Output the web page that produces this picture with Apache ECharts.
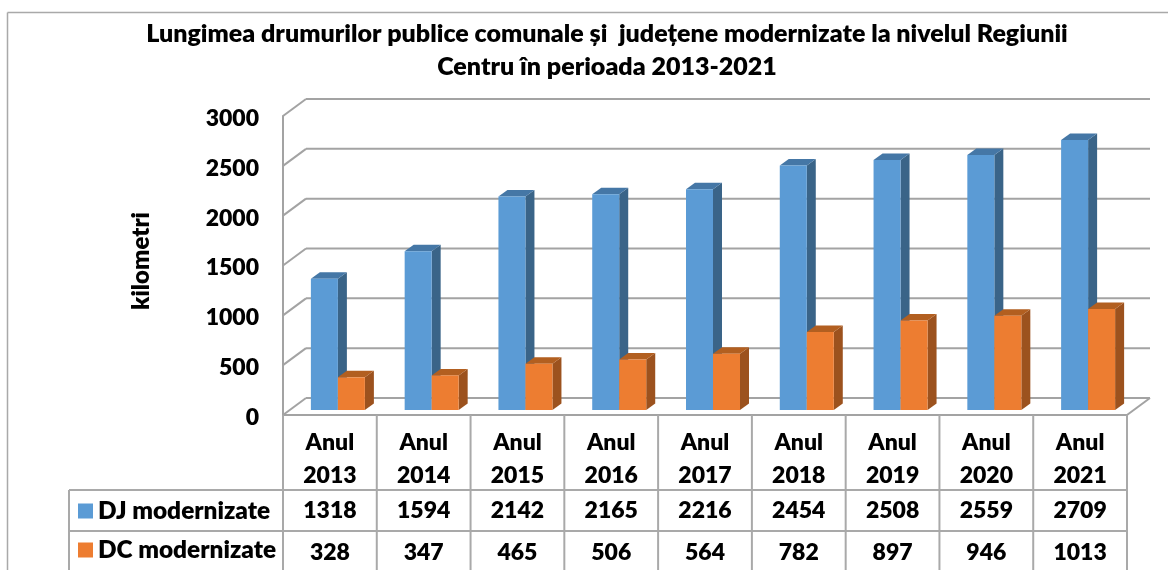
<!DOCTYPE html>
<html><head><meta charset="utf-8">
<style>html,body{margin:0;padding:0;background:#fff}#c{width:1168px;height:570px}</style>
<script src="https://cdn.jsdelivr.net/npm/echarts@6/dist/echarts.min.js"></script>
</head><body><div id="c"></div>
<script>
const categories = ['Anul\n2013','Anul\n2014','Anul\n2015','Anul\n2016','Anul\n2017','Anul\n2018','Anul\n2019','Anul\n2020','Anul\n2021'];
const djValues = [1318,1594,2142,2165,2216,2454,2508,2559,2709];
const dcValues = [328,347,465,506,564,782,897,946,1013];
const yTicks = [0,500,1000,1500,2000,2500,3000];
const titleText = 'Lungimea drumurilor publice comunale și  județene modernizate la nivelul Regiunii\nCentru în perioada 2013-2021';
const FONT = 'Lato';
const GRID = '#a3a3a3', TABLE = '#a9a9a9';
const DEPTH = [23,-17], BAR_OFF = [8,-5], BAR_D = [9,-6.5], BAR_W = 27;

const poly = (points, fill) => ({type:'polygon', shape:{points}, style:{fill, stroke:null}});
const line = (x1,y1,x2,y2,stroke,lineWidth) => ({type:'line', shape:{x1,y1,x2,y2}, style:{stroke,lineWidth}});

function barSeries(name, values, slot, front, side, top){
  return {
    name, type:'custom', clip:false, silent:true, z:5,
    itemStyle:{color:front}, data:values,
    renderItem(params, api){
      const i = params.dataIndex;
      const c = api.coord([i, api.value(0)]), b = api.coord([i, 0]);
      const x0 = b[0] + BAR_OFF[0] + (slot-1)*BAR_W, x1 = x0 + BAR_W;
      const y0 = b[1] + BAR_OFF[1], y1 = c[1] + BAR_OFF[1];
      const dx = BAR_D[0], dy = BAR_D[1];
      return {type:'group', children:[
        poly([[x1,y0],[x1+dx,y0+dy],[x1+dx,y1+dy],[x1,y1]], side),
        poly([[x0,y1],[x1,y1],[x1+dx,y1+dy],[x0+dx,y1+dy]], top),
        poly([[x0,y0],[x1,y0],[x1,y1],[x0,y1]], front)
      ]};
    },
    encode:{y:0}
  };
}
function rowSeries(name, values, yCenter){
  return {
    name, type:'custom', clip:false, silent:true, z:6, data:values,
    renderItem(params, api){
      const x = api.coord([params.dataIndex, 0])[0];
      return {type:'text', x, y:yCenter, style:{text:String(api.value(0)), fill:'#000', font:'800 23px '+FONT, textAlign:'center', textVerticalAlign:'middle'}};
    },
    encode:{y:0}
  };
}
const option = {
  animation:false,
  backgroundColor:'#fff',
  title:{text:titleText, left:602, top:12, textAlign:'center',
    textStyle:{fontFamily:FONT, fontWeight:800, fontSize:25, lineHeight:33, color:'#000'}},
  legend:{orient:'vertical', left:78, top:499, padding:0, itemWidth:15, itemHeight:15, itemGap:15, selectedMode:false,
    data:[{name:'DJ modernizate',icon:'rect',itemStyle:{color:'#5B9BD5'}},{name:'DC modernizate',icon:'rect',itemStyle:{color:'#ED7D31'}}],
    textStyle:{fontFamily:FONT, fontWeight:800, fontSize:24.4, color:'#000', padding:[0,0,0,0]}},
  grid:{left:283, right:41, top:116, bottom:155},
  xAxis:{type:'category', data:categories, axisTick:{show:false},
    axisLine:{lineStyle:{color:GRID,width:2}},
    axisLabel:{interval:0, margin:11, color:'#000', fontFamily:FONT, fontWeight:800, fontSize:23, lineHeight:33}},
  yAxis:{type:'value', min:0, max:3000, interval:500,
    name:'kilometri', nameLocation:'middle', nameGap:130, nameRotate:90,
    nameTextStyle:{color:'#000', fontFamily:FONT, fontWeight:800, fontSize:24, padding:[0,0,0,9]},
    axisLine:{show:true, lineStyle:{color:GRID,width:2}}, axisTick:{show:false}, splitLine:{show:false},
    axisLabel:{margin:24, formatter:v=>'{t|'+v+'}',
      rich:{t:{color:'#000', fontFamily:FONT, fontWeight:800, fontSize:23, padding:[5,0,0,0]}}}},
  series:[
    {name:'walls', type:'custom', clip:false, silent:true, z:1, data:yTicks, encode:{y:0},
      renderItem(params, api){
        const p = api.coord([0, api.value(0)]);
        const left = params.coordSys.x, right = params.coordSys.x + params.coordSys.width;
        const y = p[1];
        const kids = [
          line(left,y,left+DEPTH[0],y+DEPTH[1],GRID,2),
          line(left+DEPTH[0],y+DEPTH[1],right+DEPTH[0],y+DEPTH[1],GRID,2)
        ];
        if (api.value(0) === 0) kids.push(line(right,y,right+DEPTH[0],y+DEPTH[1],GRID,2));
        return {type:'group', children:kids};
      }},
    {name:'tableFrame', type:'custom', clip:false, silent:true, z:2, data:categories.map((_,i)=>i), encode:{x:0},
      renderItem(params, api){
        const band = api.size([1,0])[0];
        const x = api.coord([params.dataIndex,0])[0];
        const kids = [line(x-band/2,415,x-band/2,570,TABLE,2)];
        if (params.dataIndex === categories.length-1) kids.push(line(x+band/2,415,x+band/2,570,TABLE,2));
        if (params.dataIndex === 0) {
          kids.push(line(69,490,params.coordSys.x+params.coordSys.width,490,TABLE,2));
          kids.push(line(69,531,params.coordSys.x+params.coordSys.width,531,TABLE,2));
          kids.push(line(69,490,69,570,TABLE,2));
          kids.push(line(7.5,12.5,7.5,570,TABLE,1.5));
          kids.push(line(7.5,12.5,1168,12.5,TABLE,1.5));
        }
        return {type:'group', children:kids};
      }},
    barSeries('DJ modernizate', djValues, 0, '#5B9BD5', '#3A6488', '#4577A6'),
    barSeries('DC modernizate', dcValues, 1, '#ED7D31', '#9C521E', '#B25F20'),
    rowSeries('rowDJ', djValues, 511),
    rowSeries('rowDC', dcValues, 553)
  ]
};
echarts.init(document.getElementById('c'),null,{renderer:'canvas'}).setOption(option);
</script></body></html>
